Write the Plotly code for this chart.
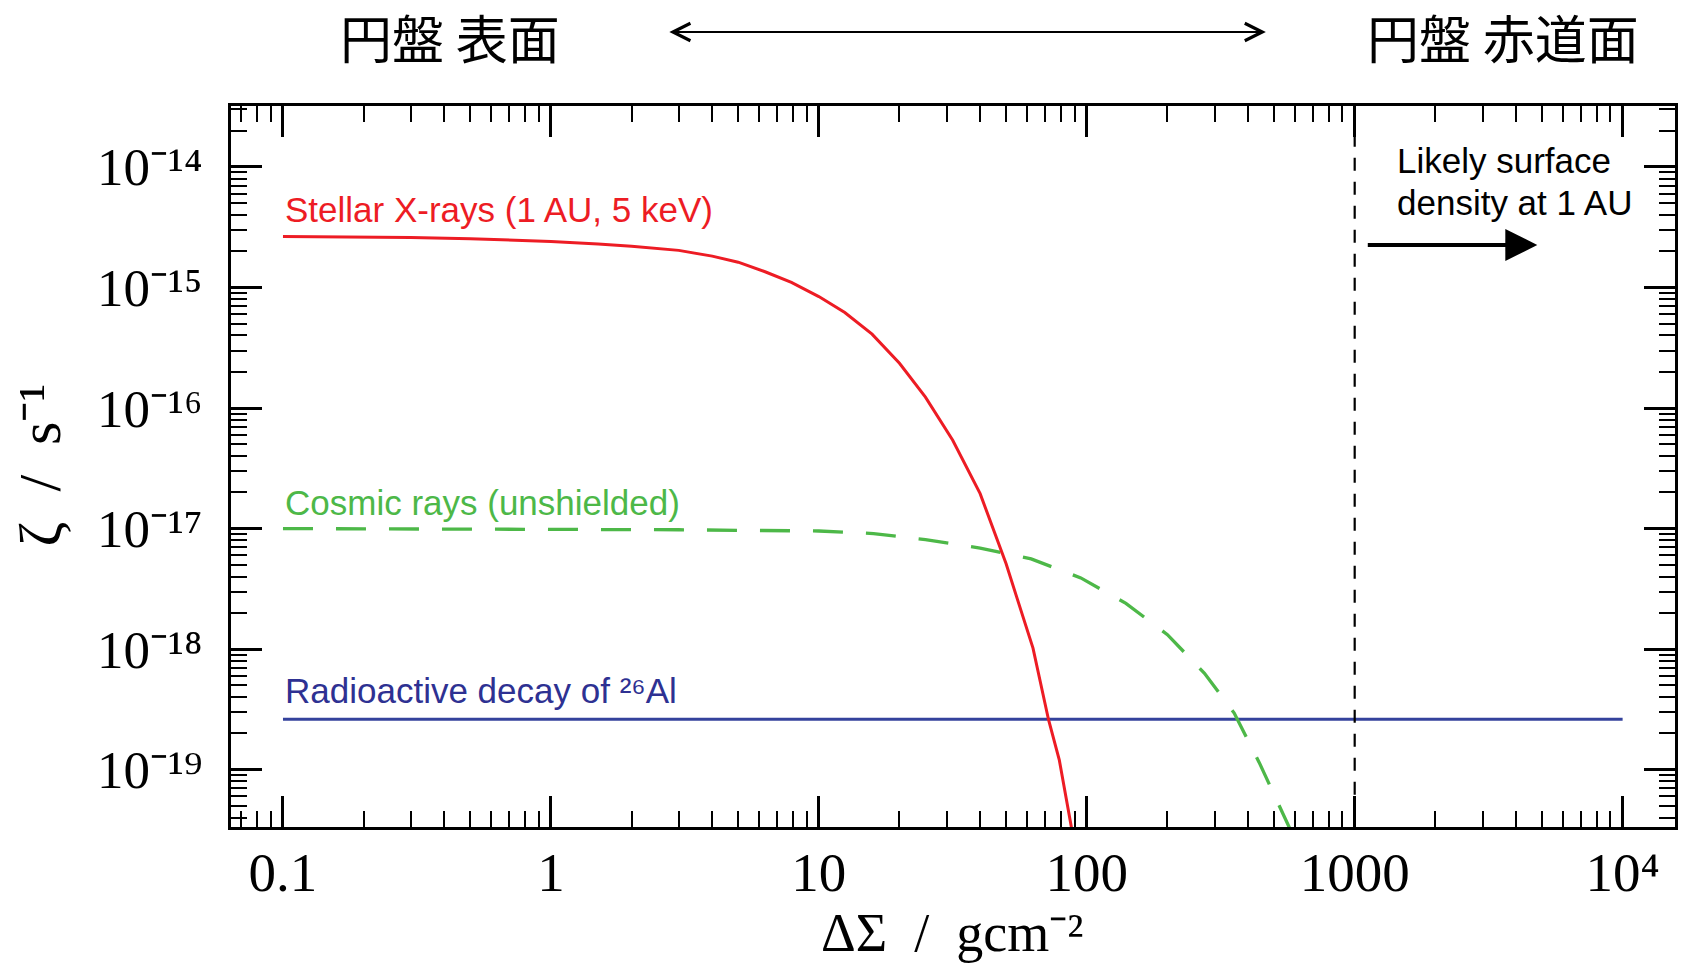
import plotly.graph_objects as go

# Ionisation rate versus column density into the disc (g cm^-2)
xray_sigma = [0.1, 0.2, 0.3, 0.5, 0.7, 1.0, 1.5, 2.0, 3.0, 4.0, 5.0, 6.3, 7.9, 10,
              12.5, 15.8, 20, 25, 31.6, 40, 50, 63, 72, 79, 90]
xray_zeta = [2.65e-15, 2.62e-15, 2.60e-15, 2.54e-15, 2.48e-15, 2.40e-15, 2.29e-15,
             2.20e-15, 2.03e-15, 1.82e-15, 1.62e-15, 1.35e-15, 1.10e-15, 8.4e-16,
             6.2e-16, 4.1e-16, 2.35e-16, 1.23e-16, 5.4e-17, 1.95e-17, 5.1e-18,
             1.02e-18, 2.6e-19, 1.2e-19, 2.4e-20]

cr_sigma = [0.1, 0.3, 1, 3, 10, 16, 25, 40, 62, 95, 140, 200, 275, 355, 440, 530, 600]
cr_zeta = [1.0e-17, 9.96e-18, 9.88e-18, 9.78e-18, 9.55e-18, 9.1e-18, 8.1e-18, 6.9e-18,
           5.6e-18, 3.9e-18, 2.4e-18, 1.32e-18, 6.3e-19, 2.95e-19, 1.15e-19, 4.7e-20,
           2.6e-20]

al_sigma = [0.1, 1e4]
al_zeta = [2.62e-19, 2.62e-19]

# Likely surface density at 1 AU
sigma_1au = 1000

x_tick_vals = [0.1, 1, 10, 100, 1000, 1e4]
x_tick_text = ["0.1", "1", "10", "100", "1000", "10\u2074"]
y_tick_vals = [1e-14, 1e-15, 1e-16, 1e-17, 1e-18, 1e-19]
y_tick_text = ["10\u207b\u00b9\u2074", "10\u207b\u00b9\u2075", "10\u207b\u00b9\u2076",
               "10\u207b\u00b9\u2077", "10\u207b\u00b9\u2078", "10\u207b\u00b9\u2079"]

RED = "#ed1c24"
GREEN = "#4db848"
BLUE_LINE = "#34429c"
BLUE_TEXT = "#2e3192"

# minor tick positions (2..9 within each decade)
x_minor = [k * 10.0 ** n for n in range(-2, 5) for k in range(2, 10)]
y_minor = [k * 10.0 ** n for n in range(-20, -13) for k in range(2, 10)]

# plot-area edges in pixels, used to place the free-standing labels
L, R, T, B = 231, 1678, 106, 827


def px(x):
    return (x - L) / (R - L)


def py(y):
    return (B - y) / (B - T)


fig = go.Figure()
fig.add_trace(go.Scatter(x=al_sigma, y=al_zeta, mode="lines",
                         line=dict(color=BLUE_LINE, width=3)))
fig.add_trace(go.Scatter(x=cr_sigma, y=cr_zeta, mode="lines",
                         line=dict(color=GREEN, width=3.3, dash="30px,23px")))
fig.add_trace(go.Scatter(x=xray_sigma, y=xray_zeta, mode="lines",
                         line=dict(color=RED, width=3)))
fig.add_trace(go.Scatter(x=[sigma_1au, sigma_1au], y=[1e-21, 1e-12], mode="lines",
                         line=dict(color="black", width=2.2, dash="13px,11px")))

axis_common = dict(
    showline=True, linewidth=3, linecolor="black", mirror="ticks",
    ticks="inside", ticklen=31, tickwidth=2.5, tickcolor="black",
    tickmode="array", showgrid=False, zeroline=False,
)
fig.update_xaxes(type="log", range=[-1.194, 4.1955], tickvals=x_tick_vals,
                 ticktext=x_tick_text,
                 tickfont=dict(family="Liberation Serif", size=55, color="black"),
                 ticklabelstandoff=-5,
                 minor=dict(tickmode="array", tickvals=x_minor, ticks="inside", ticklen=16,
                            tickwidth=2, tickcolor="black", showgrid=False),
                 **axis_common)
fig.update_yaxes(type="log", range=[-19.475, -13.495], tickvals=y_tick_vals,
                 ticktext=y_tick_text,
                 tickfont=dict(family="Liberation Serif", size=53, color="black"),
                 ticklabelstandoff=15,
                 minor=dict(tickmode="array", tickvals=y_minor, ticks="inside", ticklen=16,
                            tickwidth=2, tickcolor="black", showgrid=False),
                 **axis_common)

sans = "Liberation Sans, Arial, sans-serif"
serif = "Liberation Serif, serif"
cjk = "Noto Sans CJK JP, Noto Sans CJK SC, sans-serif"

annotations = [
    # series labels
    dict(x=-1, y=-14.357, xref="x", yref="y", text="Stellar X-rays (1 AU, 5 keV)",
         showarrow=False, xanchor="left", yanchor="middle",
         font=dict(family=sans, size=35, color=RED)),
    dict(x=-1, y=-16.784, xref="x", yref="y", text="Cosmic rays (unshielded)",
         showarrow=False, xanchor="left", yanchor="middle",
         font=dict(family=sans, size=35, color=GREEN)),
    dict(x=-1, y=-18.346, xref="x", yref="y", text="Radioactive decay of \u00b2\u2076Al",
         showarrow=False, xanchor="left", yanchor="middle",
         font=dict(family=sans, size=35, color=BLUE_TEXT)),
    # surface density note
    dict(x=px(1397), y=py(161), xref="paper", yref="paper",
         text="Likely surface", showarrow=False, xanchor="left", yanchor="middle",
         font=dict(family=sans, size=35, color="black")),
    dict(x=px(1397), y=py(202), xref="paper", yref="paper",
         text="density at 1 AU", showarrow=False, xanchor="left", yanchor="middle",
         font=dict(family=sans, size=35, color="black")),
    dict(x=px(1540), y=py(245), xref="paper", yref="paper",
         ax=-171, ay=0, text="", showarrow=True, arrowhead=2, arrowsize=1.6,
         arrowwidth=4, arrowcolor="black", standoff=0),
    # axis titles
    dict(x=px(953), y=py(933), xref="paper", yref="paper",
         text="\u0394\u03a3  /  gcm\u207b\u00b2", showarrow=False,
         xanchor="center", yanchor="middle",
         font=dict(family=serif, size=54, color="black")),
    dict(x=px(40), y=py(465), xref="paper", yref="paper",
         text="\u03b6  /  s\u207b\u00b9", showarrow=False, textangle=-90,
         xanchor="center", yanchor="middle",
         font=dict(family=serif, size=60, color="black")),
    # disc surface / midplane header
    dict(x=px(450), y=py(36), xref="paper", yref="paper",
         text="円盤 表面", showarrow=False, xanchor="center", yanchor="middle",
         font=dict(family=cjk, size=52, color="black")),
    dict(x=px(1506), y=py(36), xref="paper", yref="paper",
         text="円盤 赤道面", showarrow=False, xanchor="center", yanchor="middle",
         font=dict(family=cjk, size=52, color="black")),
    dict(x=px(1268), y=py(32), xref="paper", yref="paper",
         ax=-(1268 - 670), ay=0, text="", showarrow=True, arrowhead=5, arrowsize=1.7,
         arrowwidth=2, arrowcolor="black", arrowside="end+start", standoff=0,
         startstandoff=0, startarrowhead=5, startarrowsize=1.7),
]

fig.update_layout(
    width=1688, height=966,
    margin=dict(l=L, r=1688 - R, t=T, b=966 - B),
    paper_bgcolor="white", plot_bgcolor="white",
    showlegend=False,
    annotations=annotations,
)

fig.write_html("out.html")
